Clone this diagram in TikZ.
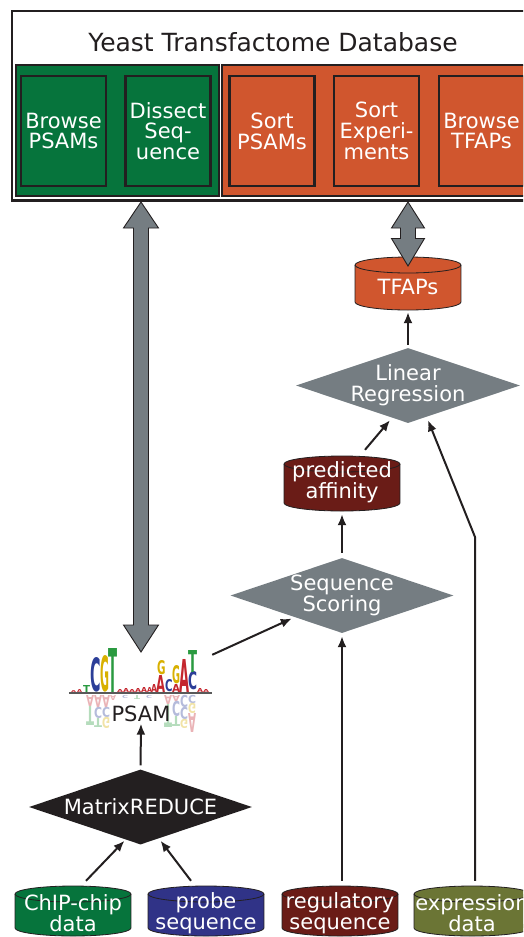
\documentclass[tikz,border=0pt]{standalone}
\usepackage{fontspec}
\setmainfont{DejaVu Sans}
\usetikzlibrary{shapes.geometric,arrows.meta,calc}
\definecolor{dark}{HTML}{231F20}
\definecolor{dbgreen}{HTML}{06743C}
\definecolor{dborange}{HTML}{D0562E}
\definecolor{dbgray}{HTML}{757D82}
\definecolor{dbred}{HTML}{6A1C17}
\definecolor{dbblue}{HTML}{303387}
\definecolor{dbolive}{HTML}{6B7535}
\definecolor{lred}{HTML}{C4262E}
\definecolor{lblue}{HTML}{2C3E98}
\definecolor{lyellow}{HTML}{D8B000}
\definecolor{lgreen}{HTML}{2A9A40}
\newcommand\lblfont{\fontsize{21}{20.8}\selectfont}
\newcommand\titlefont{\fontsize{25}{30}\selectfont}
% logo letters: up (x, bottom, w, h, colour, letter)
\newcommand\LU[6]{\node[anchor=south west,inner sep=0pt,outer sep=0pt] at (#1,#2) {\resizebox{#3pt}{#4pt}{\color{#5}\bfseries #6}};}
% logo letters: down, faded, mirrored (x, top, w, h, colour, letter)
\newcommand\LD[6]{\node[anchor=north west,inner sep=0pt,outer sep=0pt] at (#1,#2) {\scalebox{1}[-1]{\resizebox{#3pt}{#4pt}{\color{#5!35!white}\bfseries #6}}};}
% cylinder: name, cx, cy, w, h, colour, text
\newcommand\cyl[8]{%
  \fill[#6] (#2-#4/2, #3-#5/2+8) rectangle (#2+#4/2, #3+#5/2-8);
  \fill[#6] (#2, #3+#5/2-8) ellipse [x radius=#4/2, y radius=8];
  \fill[#6] (#2, #3-#5/2+8) ellipse [x radius=#4/2, y radius=8];
  \draw[cylline] (#2-#4/2, #3-#5/2+8) -- (#2-#4/2, #3+#5/2-8)
     arc[start angle=180, end angle=0, x radius=#4/2, y radius=8] -- (#2+#4/2, #3-#5/2+8);
  \draw[cylline] (#2, #3-#5/2+8) ellipse [x radius=#4/2, y radius=8];
  \node[minimum width=#4, minimum height=#5, inner sep=0pt] (#1) at (#2,#3) {};
  \node[lbl] at (#2,#3+#8) {#7};
}
\tikzset{
  lbl/.style={text=white, font=\lblfont, align=center, inner sep=0pt},
  cylline/.style={draw=dark, line width=0.8},
  appbox/.style={draw=dark, line width=2.3, minimum width=85, minimum height=110, inner sep=0pt, lbl},
  region/.style={draw=dark, line width=1.2, minimum height=131, inner sep=0pt},
  decide/.style={diamond, minimum width=223, minimum height=75, inner sep=0pt},
  arr/.style={draw=dark, line width=2, -{Latex[length=11pt,width=9pt]}},
  bigarrow/.style={fill=dbgray, draw=dark, line width=0.9, line join=miter},
}
\begin{document}
\begin{tikzpicture}[x=1pt,y=-1pt]
\useasboundingbox (0,0) rectangle (523,937);
\clip (0,0) rectangle (523,937);
\fill[white] (0,0) rectangle (523,937);

% ---------- database box ----------
\node[draw=dark, line width=2.5, fill=white, minimum width=522, minimum height=189.5, inner sep=0pt] (db) at (273,105.5) {};
\node[text=dark, font=\titlefont, inner sep=0pt] (title) at (273,42.5) {Yeast Transfactome Database};
\node[region, fill=dbgreen, minimum width=203] (greg) at (117.5,130.5) {};
\node[region, fill=dborange, minimum width=310] (oreg) at (377,130.5) {};
\node[appbox, fill=dbgreen] (bpsam) at (63.5,131) {Browse\\PSAMs};
\node[appbox, fill=dbgreen] (dseq) at (168,131) {Dissect\\Seq-\\uence};
\node[appbox, fill=dborange] (spsam) at (272,131) {Sort\\PSAMs};
\node[appbox, fill=dborange] (sexp) at (376.5,131) {Sort\\Experi-\\ments};
\node[appbox, fill=dborange] (btfap) at (481.5,131) {Browse\\TFAPs};

% ---------- cylinders ----------
\cyl{tfaps}{408}{283.5}{106}{53}{dborange}{TFAPs}{3}
\cyl{pa}{342}{483.5}{116}{55}{dbred}{predicted\\affinity}{-1}
\cyl{chip}{73}{911}{116}{50}{dbgreen}{ChIP-chip\\data}{2}
\cyl{probe}{206}{911}{116}{50}{dbblue}{probe\\sequence}{2}
\cyl{reg}{340}{911}{116}{50}{dbred}{regulatory\\sequence}{2}
\cyl{expr}{472}{911}{116}{50}{dbolive}{expression\\data}{2}

% ---------- decisions ----------
\node[decide, fill=dbgray, minimum width=224] (lr) at (408,385.5) {};
\node[lbl] at (lr) {Linear\\Regression};
\node[decide, fill=dbgray] (ss) at (342,595.5) {};
\node[lbl] at (ss) {Sequence\\Scoring};
\node[decide, fill=dark] (mr) at (140.5,807) {};
\node[lbl] at (mr) {MatrixREDUCE};

% ---------- PSAM logo ----------
\node[minimum width=144, minimum height=87, inner sep=0pt] (logo) at (140,691.5) {};
\LU{71}{692}{5}{2}{lred}{A}
\LU{77}{692}{5}{3}{lred}{A}
\LU{83}{692}{7}{7}{lgreen}{T}
\LU{90}{692}{10.5}{34}{lblue}{C}
\LU{100}{692}{9}{36}{lyellow}{G}
\LU{108}{692}{9}{44}{lgreen}{T}
\LU{117}{692}{6}{3}{lred}{A}
\LU{123}{692}{6}{4}{lred}{A}
\LU{129}{692}{6}{3}{lred}{A}
\LU{135}{692}{6}{4}{lred}{A}
\LU{141}{692}{6}{5}{lred}{A}
\LU{147}{692}{5}{5}{lred}{A}
\LU{151}{692}{6}{8}{lred}{A}
\LU{156}{692}{9}{17}{lred}{A}
\LU{157}{675}{8.5}{14}{lyellow}{G}
\LU{165}{692}{7.5}{12}{lblue}{C}
\LU{172}{692}{8}{8}{lred}{A}
\LU{172}{684}{8}{18}{lyellow}{G}
\LU{179}{692}{10}{33}{lred}{A}
\LU{188}{690}{9}{18}{lblue}{C}
\LU{188}{672}{9}{22}{lgreen}{T}
\LU{197}{692}{6}{4}{lred}{A}
\LU{203}{692}{6}{3}{lred}{A}
\LD{86}{695}{8}{11}{lred}{A}
\LD{86}{706}{8}{19}{lgreen}{T}
\LD{94}{695}{8}{12}{lred}{A}
\LD{94}{707}{8}{11}{lblue}{C}
\LD{94}{718}{8}{9}{lgreen}{T}
\LD{102}{695}{8}{12}{lred}{A}
\LD{102}{707}{8}{10}{lblue}{C}
\LD{102}{717}{8}{11}{lyellow}{G}
\LD{110}{695}{6}{5}{lred}{A}
\LD{122}{695}{6}{3}{lblue}{C}
\LD{134}{695}{6}{4}{lgreen}{T}
\LD{146}{695}{6}{3}{lblue}{C}
\LD{164}{695}{8}{9}{lred}{A}
\LD{164}{704}{8}{23}{lgreen}{T}
\LD{172}{695}{8}{6}{lred}{A}
\LD{172}{701}{8}{15}{lblue}{C}
\LD{172}{716}{8}{10}{lgreen}{T}
\LD{180}{695}{8}{12}{lblue}{C}
\LD{180}{707}{8}{12}{lblue}{C}
\LD{180}{719}{8}{9}{lyellow}{G}
\LD{188}{695}{8}{8}{lblue}{C}
\LD{188}{703}{8}{10}{lyellow}{G}
\LD{188}{713}{8}{19}{lred}{A}
\draw[line width=1.5, draw=black!65] ($(logo.west)+(1,1.5)$) -- ($(logo.east)+(0,1.5)$);
\node[text=dark, font=\lblfont, inner sep=1.5pt] (psam) at (141,714) {PSAM};

% ---------- big double arrows ----------
\coordinate (lt) at (141,202);
\coordinate (lb) at (141,652);
\fill[bigarrow] (lt) -- ++(17.5,26) -- ++(-10,0) -- ++(0,397) -- ++(10,0) -- (lb)
  -- ++(-17.5,-27) -- ++(10,0) -- ++(0,-397) -- ++(-10,0) -- cycle;
\coordinate (rt) at (408,202);
\coordinate (rb) at (408,266);
\fill[bigarrow] (rt) -- ++(16.5,26) -- ++(-9,0) -- ++(0,10.5) -- ++(9,0) -- (rb)
  -- ++(-16.5,-27.5) -- ++(9,0) -- ++(0,-10.5) -- ++(-9,0) -- cycle;

% ---------- connectors ----------
\coordinate (ebend) at (475,537);
\draw[arr, shorten <=4pt] (mr.north) -- (psam.south);
\draw[arr] ($(chip.north)+(13,-5)$) -- ($(mr.south)+(-16,-4)$);
\draw[arr] ($(probe.north)+(-15,-5)$) -- ($(mr.south)+(20,-4)$);
\draw[arr] ($(reg.north)+(2,-5)$) -- ($(ss.south)+(0,3)$);
\draw[arr] ($(expr.north)+(3,-5)$) -- (ebend) -- ($(lr.south)+(20,-3)$);
\draw[arr, shorten <=5pt, shorten >=3pt] (ss.north) -- (pa.south);
\draw[arr] ($(pa.north)+(23,-6)$) -- ($(lr.south)+(-18,-3)$);
\draw[arr, shorten <=3pt, shorten >=2pt] (lr.north) -- (tfaps.south);
\draw[arr] ($(logo.north east)+(0,7)$) -- ($(ss.west)+(61.5,23)$);
\end{tikzpicture}
\end{document}
